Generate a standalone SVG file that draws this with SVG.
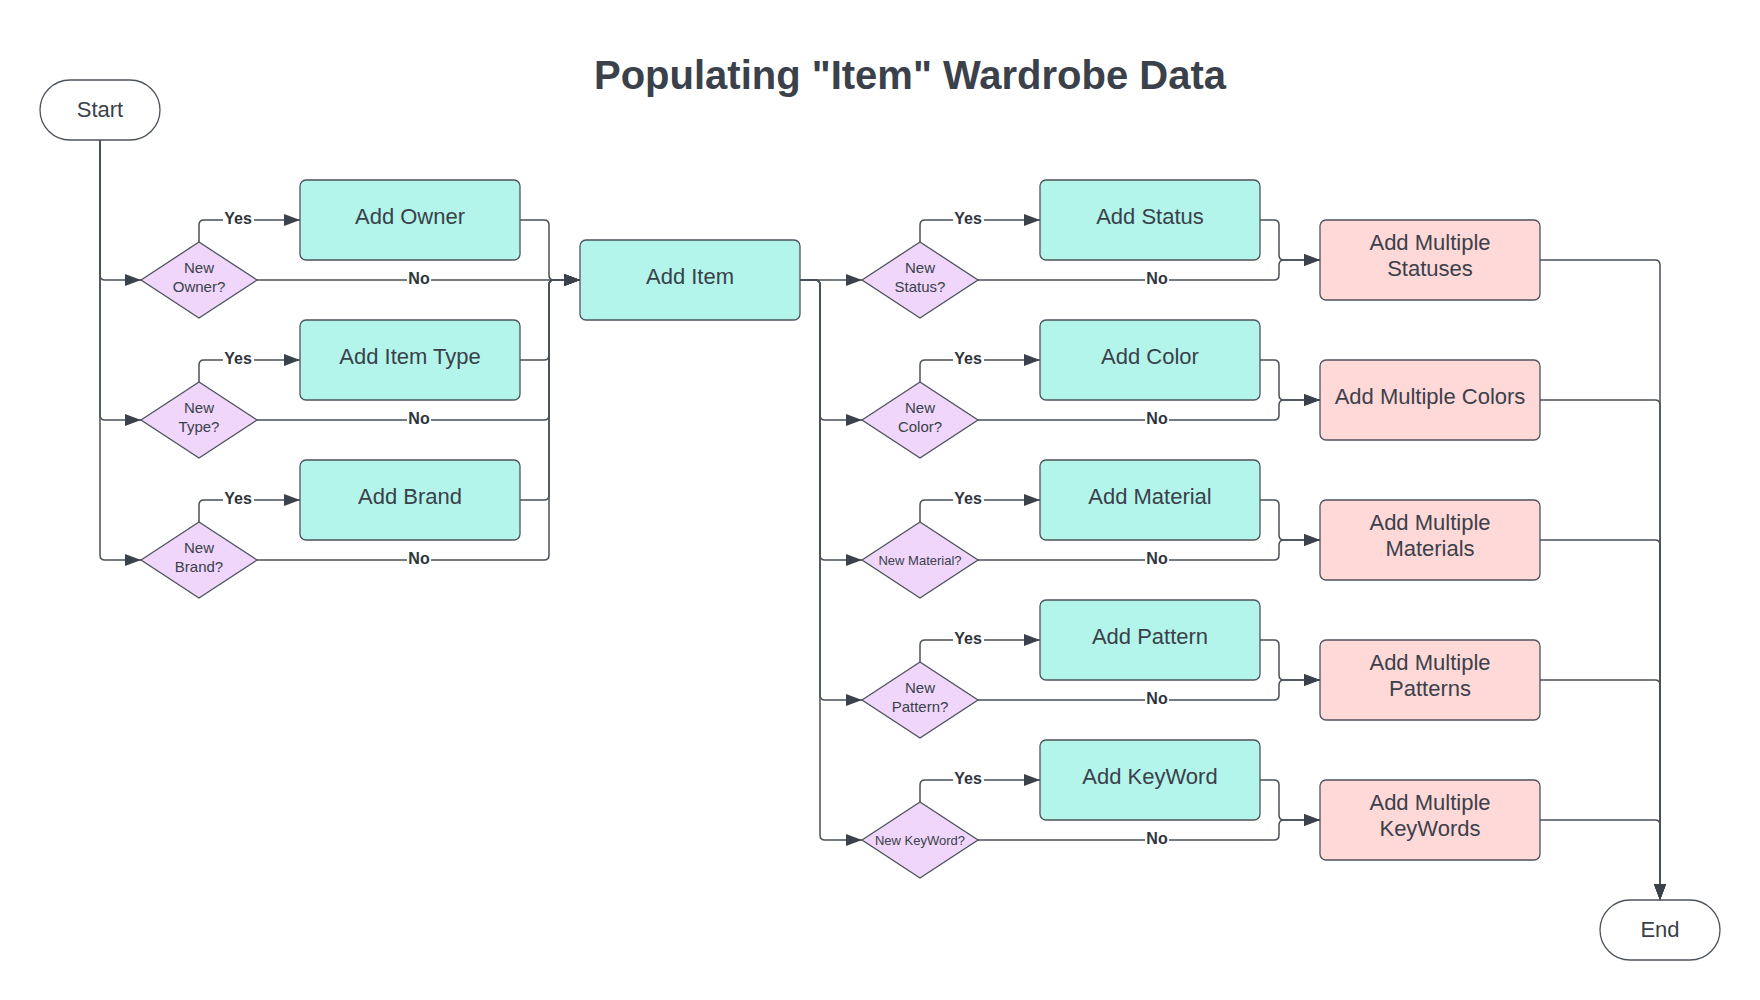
<svg xmlns="http://www.w3.org/2000/svg" width="1760" height="1000" viewBox="0 0 1760 1000">
<defs>
<marker id="arr" viewBox="0 0 16 12" refX="16" refY="6" markerWidth="16" markerHeight="12" markerUnits="userSpaceOnUse" orient="auto">
<path d="M0,0 L16,6 L0,12 z" fill="#3a414a"/>
</marker>
<style>
.t{font-family:"Liberation Sans",Arial,sans-serif;fill:#3a414a;text-anchor:middle}
.box{fill:#b3f5ea;stroke:#4d535b;stroke-width:1.3}
.multi{fill:#ffd8d8;stroke:#4d535b;stroke-width:1.3}
.dia{fill:#efd6fa;stroke:#4d535b;stroke-width:1.3}
.term{fill:#ffffff;stroke:#4d535b;stroke-width:1.3}
.c{fill:none;stroke:#4a5058;stroke-width:1.5}
.ca{fill:none;stroke:#4a5058;stroke-width:1.5;marker-end:url(#arr)}
.lbl{font-family:"Liberation Sans",Arial,sans-serif;font-weight:bold;font-size:16px;fill:#2f353d;text-anchor:middle}
.bg{fill:#ffffff}
.n{font-size:22px}
.d{font-size:15px}
.ds{font-size:13px}
</style>
</defs>
<rect width="1760" height="1000" fill="#ffffff"/>
<text class="t" x="910" y="89" style="font-size:40px;font-weight:bold">Populating "Item" Wardrobe Data</text>

<g id="connectors">
<!-- Start to left diamonds -->
<path class="ca" d="M100,140 L100,275 Q100,280 105,280 L141,280"/>
<path class="ca" d="M100,140 L100,415 Q100,420 105,420 L141,420"/>
<path class="ca" d="M100,140 L100,555 Q100,560 105,560 L141,560"/>
<!-- Yes left -->
<path class="ca" d="M199,242 L199,225 Q199,220 204,220 L300,220"/>
<path class="ca" d="M199,382 L199,365 Q199,360 204,360 L300,360"/>
<path class="ca" d="M199,522 L199,505 Q199,500 204,500 L300,500"/>
<!-- Left boxes to Add Item -->
<path class="ca" d="M520,220 L544,220 Q549,220 549,225 L549,275 Q549,280 554,280 L580,280"/>
<path class="ca" d="M520,360 L544,360 Q549,360 549,355 L549,285 Q549,280 554,280 L580,280"/>
<path class="ca" d="M520,500 L544,500 Q549,500 549,495 L549,285 Q549,280 554,280 L580,280"/>
<!-- No left -->
<path class="ca" d="M257,280 L580,280"/>
<path class="ca" d="M257,420 L544,420 Q549,420 549,415 L549,285 Q549,280 554,280 L580,280"/>
<path class="ca" d="M257,560 L544,560 Q549,560 549,555 L549,285 Q549,280 554,280 L580,280"/>
<!-- Add Item to right diamonds -->
<path class="ca" d="M800,280 L862,280"/>
<path class="ca" d="M800,280 L815,280 Q820,280 820,285 L820,415 Q820,420 825,420 L862,420"/>
<path class="ca" d="M800,280 L815,280 Q820,280 820,285 L820,555 Q820,560 825,560 L862,560"/>
<path class="ca" d="M800,280 L815,280 Q820,280 820,285 L820,695 Q820,700 825,700 L862,700"/>
<path class="ca" d="M800,280 L815,280 Q820,280 820,285 L820,835 Q820,840 825,840 L862,840"/>
<!-- Yes right -->
<path class="ca" d="M920,242 L920,225 Q920,220 925,220 L1040,220"/>
<path class="ca" d="M920,382 L920,365 Q920,360 925,360 L1040,360"/>
<path class="ca" d="M920,522 L920,505 Q920,500 925,500 L1040,500"/>
<path class="ca" d="M920,662 L920,645 Q920,640 925,640 L1040,640"/>
<path class="ca" d="M920,802 L920,785 Q920,780 925,780 L1040,780"/>
<!-- Add X to Multiple -->
<path class="ca" d="M1260,220 L1274,220 Q1279,220 1279,225 L1279,255 Q1279,260 1284,260 L1320,260"/>
<path class="ca" d="M1260,360 L1274,360 Q1279,360 1279,365 L1279,395 Q1279,400 1284,400 L1320,400"/>
<path class="ca" d="M1260,500 L1274,500 Q1279,500 1279,505 L1279,535 Q1279,540 1284,540 L1320,540"/>
<path class="ca" d="M1260,640 L1274,640 Q1279,640 1279,645 L1279,675 Q1279,680 1284,680 L1320,680"/>
<path class="ca" d="M1260,780 L1274,780 Q1279,780 1279,785 L1279,815 Q1279,820 1284,820 L1320,820"/>
<!-- No right -->
<path class="ca" d="M978,280 L1274,280 Q1279,280 1279,275 L1279,265 Q1279,260 1284,260 L1320,260"/>
<path class="ca" d="M978,420 L1274,420 Q1279,420 1279,415 L1279,405 Q1279,400 1284,400 L1320,400"/>
<path class="ca" d="M978,560 L1274,560 Q1279,560 1279,555 L1279,545 Q1279,540 1284,540 L1320,540"/>
<path class="ca" d="M978,700 L1274,700 Q1279,700 1279,695 L1279,685 Q1279,680 1284,680 L1320,680"/>
<path class="ca" d="M978,840 L1274,840 Q1279,840 1279,835 L1279,825 Q1279,820 1284,820 L1320,820"/>
<!-- Multiples to End -->
<path class="ca" d="M1540,260 L1655,260 Q1660,260 1660,265 L1660,900"/>
<path class="ca" d="M1540,400 L1655,400 Q1660,400 1660,405 L1660,900"/>
<path class="ca" d="M1540,540 L1655,540 Q1660,540 1660,545 L1660,900"/>
<path class="ca" d="M1540,680 L1655,680 Q1660,680 1660,685 L1660,900"/>
<path class="ca" d="M1540,820 L1655,820 Q1660,820 1660,825 L1660,900"/>
<!-- labels -->
<g>
<rect class="bg" x="223" y="211" width="31" height="17"/><text class="lbl" x="238" y="224">Yes</text>
<rect class="bg" x="223" y="351" width="31" height="17"/><text class="lbl" x="238" y="364">Yes</text>
<rect class="bg" x="223" y="491" width="31" height="17"/><text class="lbl" x="238" y="504">Yes</text>
<rect class="bg" x="407" y="271" width="24" height="17"/><text class="lbl" x="419" y="284">No</text>
<rect class="bg" x="407" y="411" width="24" height="17"/><text class="lbl" x="419" y="424">No</text>
<rect class="bg" x="407" y="551" width="24" height="17"/><text class="lbl" x="419" y="564">No</text>
<rect class="bg" x="953" y="211" width="31" height="17"/><text class="lbl" x="968" y="224">Yes</text>
<rect class="bg" x="953" y="351" width="31" height="17"/><text class="lbl" x="968" y="364">Yes</text>
<rect class="bg" x="953" y="491" width="31" height="17"/><text class="lbl" x="968" y="504">Yes</text>
<rect class="bg" x="953" y="631" width="31" height="17"/><text class="lbl" x="968" y="644">Yes</text>
<rect class="bg" x="953" y="771" width="31" height="17"/><text class="lbl" x="968" y="784">Yes</text>
<rect class="bg" x="1145" y="271" width="24" height="17"/><text class="lbl" x="1157" y="284">No</text>
<rect class="bg" x="1145" y="411" width="24" height="17"/><text class="lbl" x="1157" y="424">No</text>
<rect class="bg" x="1145" y="551" width="24" height="17"/><text class="lbl" x="1157" y="564">No</text>
<rect class="bg" x="1145" y="691" width="24" height="17"/><text class="lbl" x="1157" y="704">No</text>
<rect class="bg" x="1145" y="831" width="24" height="17"/><text class="lbl" x="1157" y="844">No</text>
</g>
</g>

<g id="start"><rect class="term" x="40" y="80" width="120" height="60" rx="30"/><text class="t n" x="100" y="117">Start</text></g>
<g id="end"><rect class="term" x="1600" y="900" width="120" height="60" rx="30"/><text class="t n" x="1660" y="937">End</text></g>

<g id="new-owner"><polygon class="dia" points="141,280 199,242 257,280 199,318"/><text class="t d" x="199" y="273">New</text><text class="t d" x="199" y="292">Owner?</text></g>
<g id="new-type"><polygon class="dia" points="141,420 199,382 257,420 199,458"/><text class="t d" x="199" y="413">New</text><text class="t d" x="199" y="432">Type?</text></g>
<g id="new-brand"><polygon class="dia" points="141,560 199,522 257,560 199,598"/><text class="t d" x="199" y="553">New</text><text class="t d" x="199" y="572">Brand?</text></g>

<g id="add-owner"><rect class="box" x="300" y="180" width="220" height="80" rx="6"/><text class="t n" x="410" y="224">Add Owner</text></g>
<g id="add-item-type"><rect class="box" x="300" y="320" width="220" height="80" rx="6"/><text class="t n" x="410" y="364">Add Item Type</text></g>
<g id="add-brand"><rect class="box" x="300" y="460" width="220" height="80" rx="6"/><text class="t n" x="410" y="504">Add Brand</text></g>

<g id="add-item"><rect class="box" x="580" y="240" width="220" height="80" rx="6"/><text class="t n" x="690" y="284">Add Item</text></g>

<g id="new-status"><polygon class="dia" points="862,280 920,242 978,280 920,318"/><text class="t d" x="920" y="273">New</text><text class="t d" x="920" y="292">Status?</text></g>
<g id="new-color"><polygon class="dia" points="862,420 920,382 978,420 920,458"/><text class="t d" x="920" y="413">New</text><text class="t d" x="920" y="432">Color?</text></g>
<g id="new-material"><polygon class="dia" points="862,560 920,522 978,560 920,598"/><text class="t ds" x="920" y="564.5">New Material?</text></g>
<g id="new-pattern"><polygon class="dia" points="862,700 920,662 978,700 920,738"/><text class="t d" x="920" y="693">New</text><text class="t d" x="920" y="712">Pattern?</text></g>
<g id="new-keyword"><polygon class="dia" points="862,840 920,802 978,840 920,878"/><text class="t ds" x="920" y="844.5">New KeyWord?</text></g>

<g id="add-status"><rect class="box" x="1040" y="180" width="220" height="80" rx="6"/><text class="t n" x="1150" y="224">Add Status</text></g>
<g id="add-color"><rect class="box" x="1040" y="320" width="220" height="80" rx="6"/><text class="t n" x="1150" y="364">Add Color</text></g>
<g id="add-material"><rect class="box" x="1040" y="460" width="220" height="80" rx="6"/><text class="t n" x="1150" y="504">Add Material</text></g>
<g id="add-pattern"><rect class="box" x="1040" y="600" width="220" height="80" rx="6"/><text class="t n" x="1150" y="644">Add Pattern</text></g>
<g id="add-keyword"><rect class="box" x="1040" y="740" width="220" height="80" rx="6"/><text class="t n" x="1150" y="784">Add KeyWord</text></g>

<g id="add-multiple-statuses"><rect class="multi" x="1320" y="220" width="220" height="80" rx="6"/><text class="t n" x="1430" y="250">Add Multiple</text><text class="t n" x="1430" y="276">Statuses</text></g>
<g id="add-multiple-colors"><rect class="multi" x="1320" y="360" width="220" height="80" rx="6"/><text class="t n" x="1430" y="404">Add Multiple Colors</text></g>
<g id="add-multiple-materials"><rect class="multi" x="1320" y="500" width="220" height="80" rx="6"/><text class="t n" x="1430" y="530">Add Multiple</text><text class="t n" x="1430" y="556">Materials</text></g>
<g id="add-multiple-patterns"><rect class="multi" x="1320" y="640" width="220" height="80" rx="6"/><text class="t n" x="1430" y="670">Add Multiple</text><text class="t n" x="1430" y="696">Patterns</text></g>
<g id="add-multiple-keywords"><rect class="multi" x="1320" y="780" width="220" height="80" rx="6"/><text class="t n" x="1430" y="810">Add Multiple</text><text class="t n" x="1430" y="836">KeyWords</text></g>
</svg>
